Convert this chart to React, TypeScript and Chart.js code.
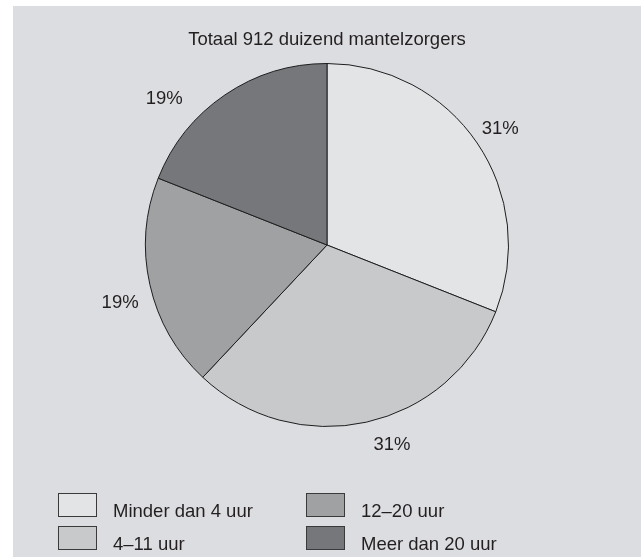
import React, { useEffect, useRef } from "react";
import { Chart, registerables } from "chart.js";

Chart.register(...registerables);

const categories = ["Minder dan 4 uur", "4–11 uur", "12–20 uur", "Meer dan 20 uur"];
const values = [31, 31, 19, 19];
const labels = ["31%", "31%", "19%", "19%"];
const colors = ["#e3e4e6", "#c8c9cb", "#a0a1a3", "#76777b"];
const title = "Totaal 912 duizend mantelzorgers";

const FONT = '18.5px "Liberation Sans", Arial, sans-serif';
const TEXT = "#231f20";

const overlay = {
  id: "overlay",
  beforeDraw(chart: any) {
    const ctx = chart.ctx;
    ctx.save();
    ctx.fillStyle = "#ffffff";
    ctx.fillRect(0, 0, chart.width, chart.height);
    ctx.fillStyle = "#dcdde0";
    ctx.fillRect(13, 6, 628, 551);
    ctx.restore();
  },
  afterDraw(chart: any, _args: any, opts: any) {
    const ctx = chart.ctx;
    ctx.save();
    ctx.font = FONT;
    ctx.fillStyle = TEXT;
    ctx.textBaseline = "alphabetic";
    ctx.textAlign = "center";
    ctx.fillText(title, 327, 45);

    const meta = chart.getDatasetMeta(0);
    meta.data.forEach((arc: any, i: number) => {
      const f = opts.anchors[i];
      const a = arc.startAngle + (arc.endAngle - arc.startAngle) * f;
      const r = arc.outerRadius + opts.gaps[i];
      const x = arc.x + Math.cos(a) * r;
      const y = arc.y + Math.sin(a) * r;
      ctx.fillText(labels[i], x, y + 6.5);
    });

    // legend in two columns
    const cols = [58, 306];
    const rows = [493, 526];
    ctx.textAlign = "left";
    categories.forEach((c, i) => {
      const col = Math.floor(i / 2);
      const row = i % 2;
      const bx = cols[col];
      const by = rows[row];
      ctx.fillStyle = colors[i];
      ctx.fillRect(bx, by, 38, 23);
      ctx.strokeStyle = "#3a3a3a";
      ctx.lineWidth = 1;
      ctx.strokeRect(bx + 0.5, by + 0.5, 38, 23);
      ctx.fillStyle = TEXT;
      ctx.fillText(c, bx + 55, by + 24);
    });
    ctx.restore();
  },
};

export default function App() {
  const ref = useRef<HTMLCanvasElement | null>(null);
  useEffect(() => {
    if (!ref.current) return;
    const chart = new Chart(ref.current, {
      type: "pie",
      data: {
        labels: categories,
        datasets: [
          {
            data: values,
            backgroundColor: colors,
            borderColor: "#1e1e1e",
            borderWidth: 1,
          },
        ],
      },
      options: {
        responsive: false,
        animation: false,
        layout: { padding: { top: 63, bottom: 131, left: 145, right: 133 } },
        plugins: {
          legend: { display: false },
          title: { display: false },
          tooltip: { enabled: false },
          overlay: {
            anchors: [0.5, 0.45, 0.46, 0.3],
            gaps: [28, 27, 33, 38],
          },
        } as any,
      },
      plugins: [overlay],
    });
    return () => chart.destroy();
  }, []);
  return (
    <div style={{ position: "absolute", left: 0, top: 0, width: 642, height: 558 }}>
      <canvas ref={ref} width={642} height={558} style={{ display: "block" }} />
    </div>
  );
}
